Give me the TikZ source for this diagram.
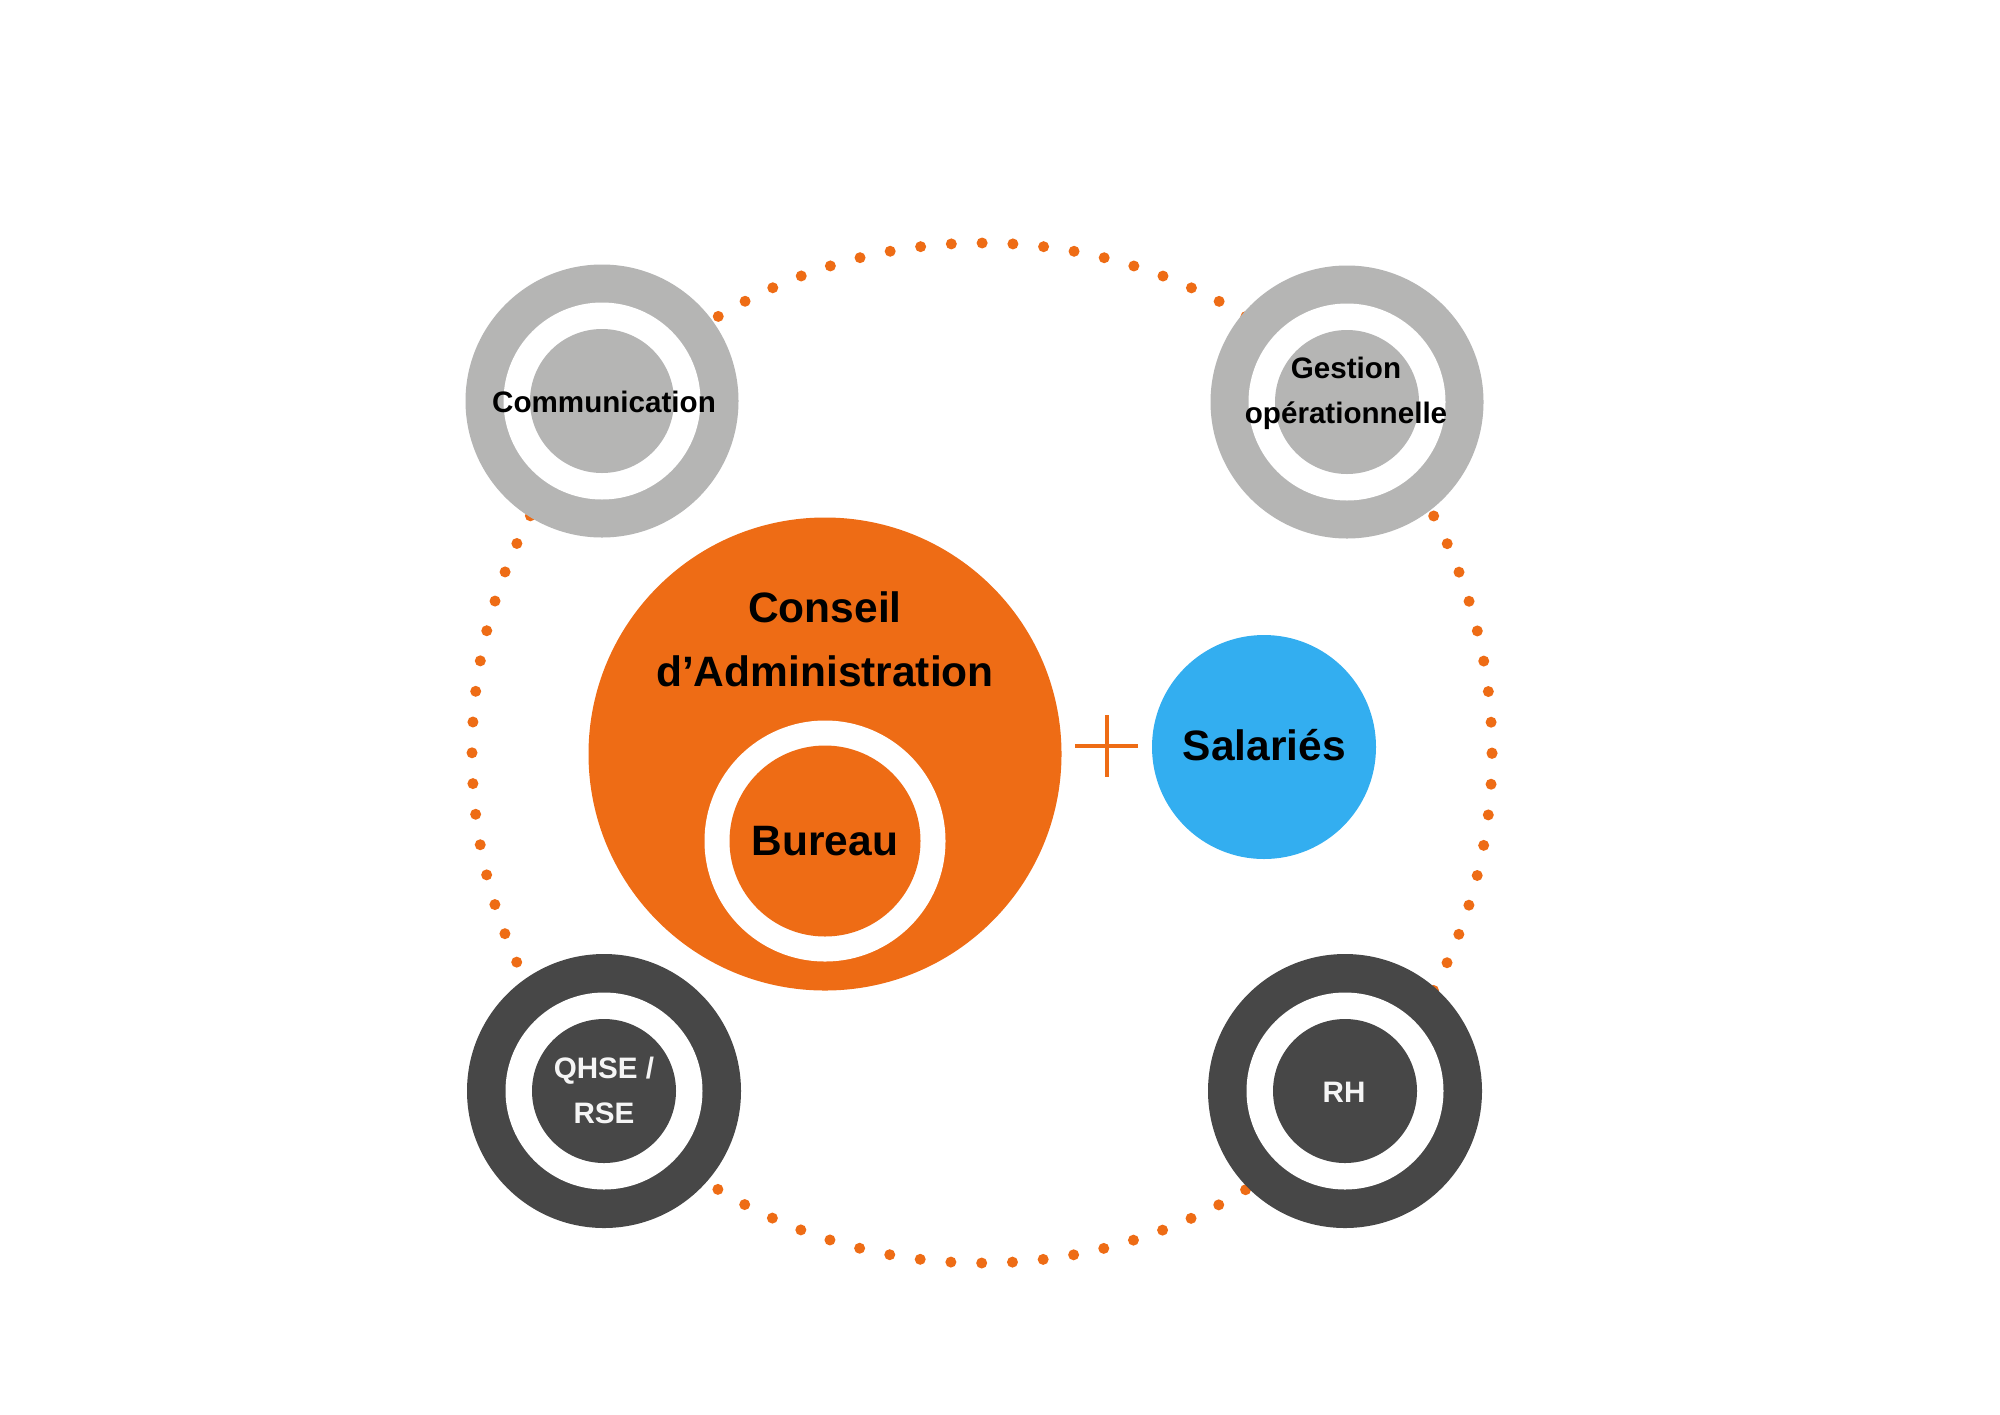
\documentclass[tikz,border=0pt]{standalone}
\usepackage{fontspec}
\setmainfont{Liberation Sans}
\usetikzlibrary{calc}
\definecolor{cOrange}{RGB}{238,108,21}
\definecolor{cLight}{RGB}{181,181,180}
\definecolor{cDark}{RGB}{71,71,71}
\definecolor{cBlue}{RGB}{51,174,240}
\definecolor{cPale}{RGB}{245,245,245}
\tikzset{
  disc/.style={circle, inner sep=0pt, outer sep=0pt, minimum size=#1},
  bigtext/.style={font=\bfseries\fontsize{21.25pt}{32pt}\selectfont, text=black, inner sep=0pt, align=center},
  smalltext/.style={font=\bfseries\fontsize{14.8pt}{22.5pt}\selectfont, inner sep=0pt, align=center},
  dotring/.style={circle, inner sep=0pt, minimum size=510pt, draw=cOrange, line width=5.5pt,
     line cap=round, dash pattern=on 0pt off 15.406pt},
  plusline/.style={draw=cOrange, line width=2pt},
}
\begin{document}
\begin{tikzpicture}[x=0.5pt, y=-0.5pt]
\fill[white] (0,0) rectangle (2000,1414);
\useasboundingbox (0,0) rectangle (2000,1414);

% dotted circle
\node[dotring] (orbit) at (982,753) {};

% Communication ring
\node[disc=136.5pt, fill=cLight] (comOuter) at (602,401) {};
\node[disc=98.5pt, fill=white] (comWhite) at (comOuter.center) {};
\node[disc=72pt, fill=cLight] (comInner) at (comOuter.center) {};
\node[smalltext, text=black, anchor=base] (comText) at (604,412) {Communication};

% Gestion ring
\node[disc=136.5pt, fill=cLight] (gesOuter) at (1347,402) {};
\node[disc=98.5pt, fill=white] (gesWhite) at (gesOuter.center) {};
\node[disc=72pt, fill=cLight] (gesInner) at (gesOuter.center) {};
\node[smalltext, text=black] (gesText) at (1346,393) {Gestion\\op\'erationnelle};

% QHSE ring
\node[disc=137pt, fill=cDark] (qhsOuter) at (604,1091) {};
\node[disc=98.5pt, fill=white] (qhsWhite) at (qhsOuter.center) {};
\node[disc=72pt, fill=cDark] (qhsInner) at (qhsOuter.center) {};
\node[smalltext, text=cPale] (qhsText) at (604,1090) {QHSE /\\RSE};

% RH ring
\node[disc=137pt, fill=cDark] (rhOuter) at (1345,1091) {};
\node[disc=98.5pt, fill=white] (rhWhite) at (rhOuter.center) {};
\node[disc=72pt, fill=cDark] (rhInner) at (rhOuter.center) {};
\node[smalltext, text=cPale, anchor=base] (rhText) at (1344,1102) {RH};

% Conseil d'Administration
\node[disc=236.5pt, fill=cOrange] (ca) at (825,754) {};
\node[bigtext] (caText) at (825,639) {Conseil\\d’Administration};
\node[disc=120.5pt, fill=white] (buWhite) at (825,841) {};
\node[disc=95.5pt, fill=cOrange] (bu) at (buWhite.center) {};
\node[bigtext, anchor=base] (buText) at (825,855) {Bureau};

% plus sign
\coordinate (plus) at (1107,746);
\draw[plusline] ($(plus)+(0,-31)$) -- ($(plus)+(0,31)$);
\draw[plusline] ($(plus)+(-32,0)$) -- ($(plus)+(31,0)$);

% Salaries
\node[disc=112pt, fill=cBlue] (sal) at (1264,747) {};
\node[bigtext, anchor=base] (salText) at (1264.5,760) {Salariés};
\end{tikzpicture}
\end{document}
